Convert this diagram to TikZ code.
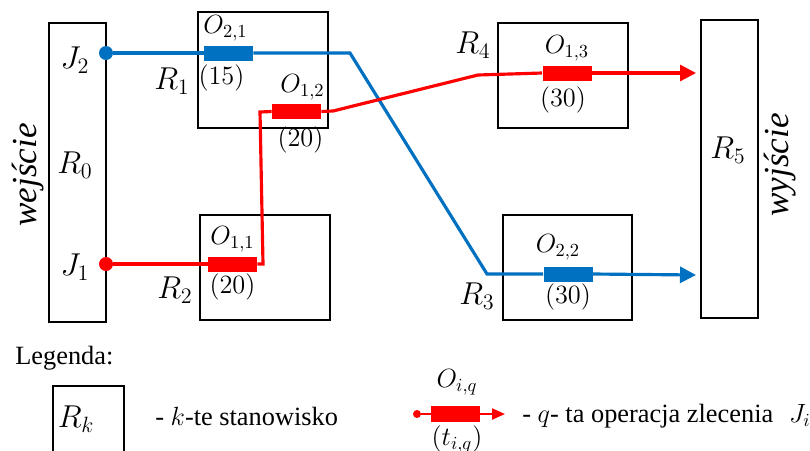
\RequirePackage{fix-cm}
\documentclass[tikz,border=0pt]{standalone}
\usepackage{fontspec}
\setmainfont{Liberation Serif}
\usetikzlibrary{arrows.meta,positioning}
\definecolor{JobRed}{HTML}{FF0000}
\definecolor{JobBlue}{HTML}{0070C0}
\tikzset{
  stn/.style={draw,line width=1.1pt,inner sep=0pt},
  opbox/.style={minimum width=0.98cm,minimum height=0.3cm,inner sep=0pt},
  redop/.style={opbox,fill=JobRed},
  blueop/.style={opbox,fill=JobBlue},
  redline/.style={draw=JobRed,line width=1.8pt},
  blueline/.style={draw=JobBlue,line width=1.8pt},
  jobdot/.style={circle,minimum size=0.28cm,inner sep=0pt},
  arr/.style={-{Triangle[length=3.2mm,width=3.2mm]}},
  mlab/.style={font=\fontsize{18}{21}\selectfont,inner sep=0pt},
  oplab/.style={font=\fontsize{15}{18}\selectfont,inner sep=0pt},
  legtext/.style={font=\fontsize{15}{18}\selectfont,inner sep=0pt,anchor=west},
  sidetext/.style={font=\fontsize{20}{24}\selectfont\itshape,rotate=90,inner sep=0pt}
}

\begin{document}
\begin{tikzpicture}[x=0.02cm,y=-0.02cm]
  \clip (0,0) rectangle (810,450);
  % stanowiska
  \node[stn,minimum width=1.14cm,minimum height=5.98cm] (r0) at (77.5,172.5) {};
  \node[stn,minimum width=2.6cm,minimum height=2.32cm] (r1) at (263,70) {};
  \node[stn,minimum width=2.6cm,minimum height=2.1cm] (r2) at (265,267.5) {};
  \node[stn,minimum width=2.6cm,minimum height=2.1cm] (r4) at (563,75.5) {};
  \node[stn,minimum width=2.58cm,minimum height=2.1cm] (r3) at (567.5,267.5) {};
  \node[stn,minimum width=1.14cm,minimum height=5.96cm] (r5) at (729.5,169) {};
  \node[sidetext] (wej) at (28,175) {wejście};
  \node[sidetext] (wyj) at (780,165) {wyjście};
  \node[mlab] (lr0) at (75,165) {$R_0$};
  \node[mlab] (lj2) at (75,60) {$J_2$};
  \node[mlab] (lj1) at (75,267) {$J_1$};
  \node[mlab] (lr1) at (172,81) {$R_1$};
  \node[mlab] (lr2) at (175,290) {$R_2$};
  \node[mlab] (lr3) at (477,296) {$R_3$};
  \node[mlab] (lr4) at (473,45) {$R_4$};
  \node[mlab] (lr5) at (728,150) {$R_5$};

  % operacje
  \node[blueop] (o21) at (228.5,53) {};
  \node[blueop] (o22) at (568,274) {};
  \node[redop] (o11) at (232.5,264) {};
  \node[redop] (o12) at (296.5,111.5) {};
  \node[redop] (o13) at (567,73) {};
  \node[oplab,above=2pt of o21,xshift=-0.06cm] {$O_{2,1}$};
  \node[oplab,below=2pt of o21,xshift=-0.14cm] {$(15)$};
  \node[oplab,above=2pt of o12,xshift=0.12cm] {$O_{1,2}$};
  \node[oplab,below=4pt of o12,xshift=0.08cm] {$(20)$};
  \node[oplab,above=2pt of o11] {$O_{1,1}$};
  \node[oplab,below=1pt of o11] {$(20)$};
  \node[oplab,above=2pt of o13] {$O_{1,3}$};
  \node[oplab,below=3pt of o13,xshift=-0.08cm] {$(30)$};
  \node[oplab,above=3pt of o22,xshift=-0.2cm] {$O_{2,2}$};
  \node[oplab,below=1pt of o22] {$(30)$};

  % zlecenie J2
  \node[jobdot,fill=JobBlue] (d2) at (106,53) {};
  \coordinate (b1) at (350,53);
  \coordinate (b2) at (487,274);
  \coordinate (e2) at (696,275);
  \draw[blueline] (d2) -- (o21.west);
  \draw[blueline] (o21.east) -- (b1) -- (b2) -- (o22.west);
  \draw[blueline,arr] (o22.east) -- (e2);

  % zlecenie J1
  \node[jobdot,fill=JobRed] (d1) at (106,264) {};
  \coordinate (c1) at (263,264);
  \coordinate (c2) at (260,112);
  \coordinate (c3) at (333,111);
  \coordinate (c4) at (478,75);
  \coordinate (e1) at (696,73);
  \draw[redline] (d1) -- (o11.west);
  \draw[redline] (o11.east) -- (c1) -- (c2) -- (o12.west);
  \draw[redline] (o12.east) -- (c3) -- (c4) -- (o13.west);
  \draw[redline,arr] (o13.east) -- (e1);

  % legenda
  \node[legtext] (leg) at (15,358) {Legenda:};
  \node[stn,minimum width=1.42cm,minimum height=2cm,anchor=north west] (rk) at (52,385) {};
  \node[mlab] (lrk) at (76,419) {$R_k$};
  \node[legtext] (legrk) at (155,416) {- $k$-te stanowisko};
  \node[circle,fill=JobRed,minimum size=0.16cm,inner sep=0pt] (ld) at (417,414) {};
  \node[redop,minimum height=0.32cm] (lop) at (455.5,414) {};
  \coordinate (le) at (505,414);
  \draw[draw=JobRed,line width=1.3pt] (ld) -- (lop.west);
  \draw[draw=JobRed,line width=1.3pt,-{Triangle[length=2.6mm,width=2.2mm]}] (lop.east) -- (le);
  \node[oplab] (lo) at (457,382) {$O_{i,q}$};
  \node[oplab] (lt) at (457,439) {$(t_{i,q})$};
  \node[legtext] (legop) at (522,416) {- $q$- ta operacja zlecenia\hspace{0.6em}$J_i$};
\end{tikzpicture}
\end{document}
